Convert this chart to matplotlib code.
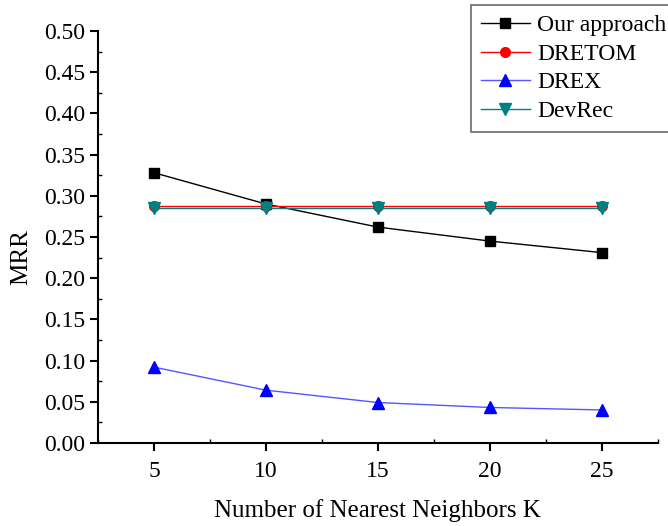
import matplotlib.pyplot as plt
from matplotlib.ticker import MultipleLocator

plt.rcParams['font.family'] = ['Liberation Serif', 'DejaVu Serif']

# --- Data ---
k_values = [5, 10, 15, 20, 25]
our_approach = [0.328, 0.290, 0.262, 0.245, 0.231]
dretom = [0.287, 0.287, 0.287, 0.287, 0.287]
drex = [0.092, 0.064, 0.049, 0.043, 0.040]
devrec = [0.285, 0.285, 0.285, 0.285, 0.285]

fig = plt.figure(figsize=(6.68, 5.26), dpi=100)
ax = fig.add_axes([0.1467, 0.158, 0.838, 0.783])

ax.plot(k_values, our_approach, color='black', lw=1, marker='s', ms=7, label='Our approach')
ax.plot(k_values, dretom, color='red', lw=1, marker='o', ms=7, label='DRETOM')
ax.plot(k_values, drex, color='#5555ff', lw=1, marker='^', ms=8,
        markerfacecolor='blue', markeredgecolor='blue', label='DREX')
ax.plot(k_values, devrec, color='#008080', lw=1, marker='v', ms=8, label='DevRec')

ax.set_xlim(2.5, 27.5)
ax.set_ylim(0, 0.5)
ax.xaxis.set_major_locator(MultipleLocator(5))
ax.xaxis.set_minor_locator(MultipleLocator(2.5))
ax.yaxis.set_major_locator(MultipleLocator(0.05))
ax.yaxis.set_minor_locator(MultipleLocator(0.025))
ax.yaxis.set_major_formatter(plt.FormatStrFormatter('%.2f'))

ax.spines['top'].set_visible(False)
ax.spines['right'].set_visible(False)
ax.spines['left'].set_linewidth(1.5)
ax.spines['bottom'].set_linewidth(1.5)
ax.tick_params(which='major', direction='out', length=6, width=1.5, labelsize=17)
ax.tick_params(axis='x', which='major', pad=7)
ax.tick_params(which='minor', direction='in', length=3, width=1)

ax.set_xlabel('Number of Nearest Neighbors K', fontsize=18, labelpad=12)
ax.set_ylabel('MRR', fontsize=18)
ax.yaxis.set_label_coords(-0.118, 0.45)

leg = fig.legend(loc='upper right', bbox_to_anchor=(1.012, 0.99), borderaxespad=0,
                 fontsize=17, frameon=True, fancybox=False, edgecolor='#444444',
                 handlelength=2.1, borderpad=0.4, labelspacing=0.3, handletextpad=0.3)
leg.get_frame().set_linewidth(1.2)

fig.savefig('out.png', dpi=100)
